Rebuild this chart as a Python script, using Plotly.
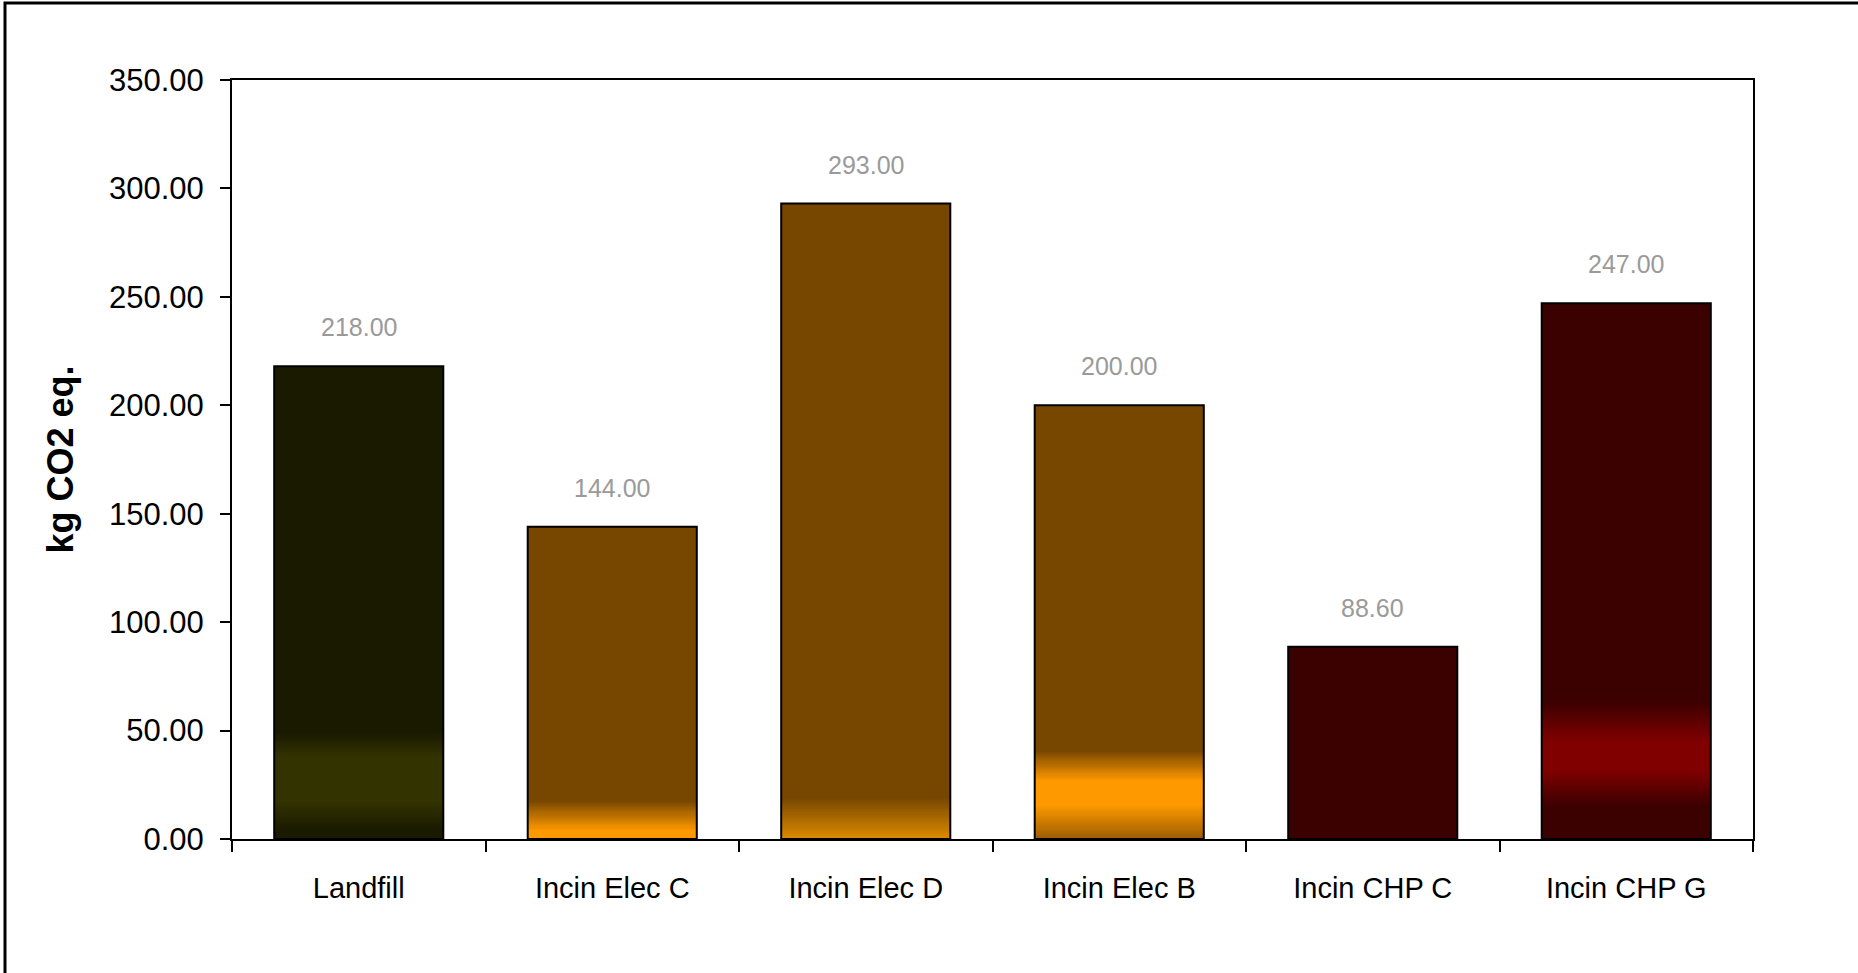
import plotly.graph_objects as go

categories = ["Landfill", "Incin Elec C", "Incin Elec D", "Incin Elec B", "Incin CHP C", "Incin CHP G"]
values = [218.00, 144.00, 293.00, 200.00, 88.60, 247.00]
y_ticks = [0, 50, 100, 150, 200, 250, 300, 350]

# styling: base fill colour for each bar and gradient stops (value, colour) near the base
base_colors = ["#1a1a00", "#774700", "#774700", "#774700", "#3b0000", "#3b0000"]
gradient_stops = [
    [(4, "#1a1a00"), (18, "#333300"), (38, "#333300"), (49, "#1a1a00")],
    [(0, "#ff9900"), (4, "#ff9900"), (18, "#774700")],
    [(0, "#e08c00"), (19, "#774700")],
    [(0, "#9a5c00"), (16, "#ff9900"), (27, "#ff9900"), (41, "#774700")],
    [],
    [(15, "#3b0000"), (32, "#800000"), (45, "#800000"), (64, "#3b0000")],
]


def hex2rgb(h):
    h = h.lstrip("#")
    return tuple(int(h[i:i + 2], 16) for i in (0, 2, 4))


def color_at(stops, base, v):
    if not stops:
        return base
    if v <= stops[0][0]:
        return stops[0][1] if stops[0][0] <= 0 else base
    if v >= stops[-1][0]:
        return base
    for (v0, c0), (v1, c1) in zip(stops[:-1], stops[1:]):
        if v0 <= v <= v1:
            t = (v - v0) / (v1 - v0) if v1 > v0 else 0
            a, b = hex2rgb(c0), hex2rgb(c1)
            r = [round(a[i] + (b[i] - a[i]) * t) for i in range(3)]
            return "rgb(%d,%d,%d)" % tuple(r)
    return base


fig = go.Figure()

# solid base bars
fig.add_trace(go.Bar(
    x=categories, y=values,
    marker=dict(color=base_colors, line=dict(width=0)),
    hoverinfo="skip", showlegend=False,
))

# gradient bands drawn as thin stacked slices of the same bars
step = 0.5
max_band = 66
n_slices = int(max_band / step)
for k in range(n_slices):
    lo = k * step
    mid = lo + step / 2
    heights = []
    cols = []
    for i, v in enumerate(values):
        h = max(0.0, min(step, v - lo))
        heights.append(h)
        cols.append(color_at(gradient_stops[i], base_colors[i], mid))
    fig.add_trace(go.Bar(
        x=categories, y=heights, base=[lo] * len(values),
        marker=dict(color=cols, line=dict(width=0)),
        hoverinfo="skip", showlegend=False,
    ))

# outline bars on top
fig.add_trace(go.Bar(
    x=categories, y=values,
    marker=dict(color="rgba(0,0,0,0)", line=dict(color="black", width=2)),
    hovertemplate="%{x}: %{y:.2f}<extra></extra>", showlegend=False,
))

for c, v in zip(categories, values):
    fig.add_annotation(
        x=c, y=v, text=f"{v:.2f}", showarrow=False,
        yanchor="middle", yshift=39,
        font=dict(family="Liberation Sans Narrow, Arial Narrow, Liberation Sans, Arial", size=25, color="#9a9a9a"),
    )

fig.update_layout(
    width=1858, height=973,
    barmode="overlay", bargap=0.333,
    paper_bgcolor="white", plot_bgcolor="white",
    margin=dict(l=232, r=105, t=80, b=134),
    font=dict(family="Liberation Sans, Arial", color="black"),
    shapes=[dict(
        type="rect", xref="paper", yref="paper",
        x0=(5 - 232) / 1521, x1=1.3, y0=-0.4, y1=(839 - 3) / 759,
        line=dict(color="black", width=3), fillcolor="rgba(0,0,0,0)", layer="below",
    )],
)

fig.update_xaxes(
    type="category", showline=True, linecolor="black", linewidth=2, mirror=True,
    ticks="outside", tickson="boundaries", ticklen=11, tickwidth=2, tickcolor="black",
    tickfont=dict(size=29, family="Liberation Sans, Arial", color="black"),
    ticklabelstandoff=22, showgrid=False, zeroline=False, fixedrange=True,
)
fig.update_yaxes(
    range=[0, 350], tickvals=y_ticks, tickformat=".2f",
    showline=True, linecolor="black", linewidth=2, mirror=True,
    ticks="outside", ticklen=10, tickwidth=2, tickcolor="black",
    tickfont=dict(size=31, family="Liberation Sans, Arial", color="black"),
    ticklabelstandoff=10, showgrid=False, zeroline=False, fixedrange=True,
    title=dict(text="<b>kg CO2 eq.</b>", font=dict(size=36, family="Liberation Sans, Arial", color="black"), standoff=24),
)

fig.write_html("out.html")
